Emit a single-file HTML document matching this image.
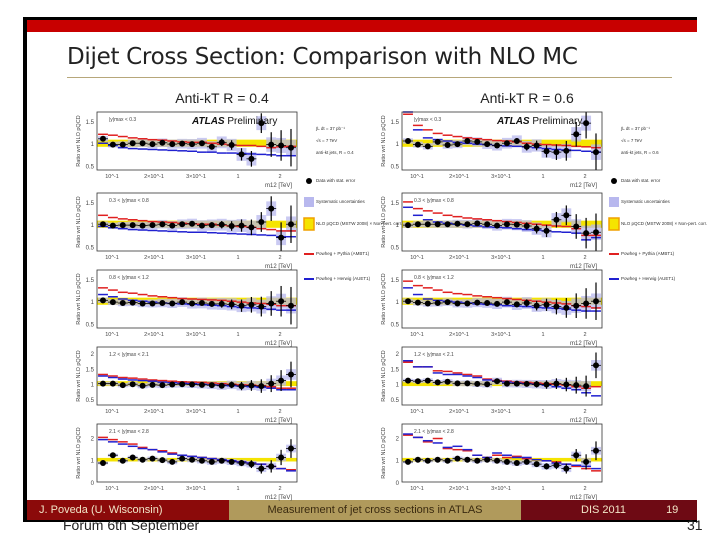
<!DOCTYPE html>
<html><head><meta charset="utf-8"><style>
body{margin:0;width:720px;height:540px;background:#fff;position:relative;overflow:hidden;font-family:"Liberation Sans",sans-serif}
#slide{position:absolute;left:23px;top:17px;width:674px;height:505px;background:#000}
#inner{position:absolute;left:4px;top:3px;width:670px;height:500px;background:#fff}
.abs{position:absolute}
</style></head><body>
<div id="slide">
<div id="inner">
<div class="abs" style="left:0;top:0;width:670px;height:12px;background:#c80000"></div>
<div class="abs" style="left:40px;top:24px;font-size:23px;color:#222;font-family:'DejaVu Sans',sans-serif;letter-spacing:-0.3px">Dijet Cross Section: Comparison with NLO MC</div>
<div class="abs" style="left:40px;top:57px;width:605px;height:1px;background:#b7a77a"></div>
<div class="abs" style="left:0;top:480px;width:202px;height:20px;background:#8b0a0a;color:#f2e6c8;font-size:11px;line-height:20px;text-indent:12px">J. Poveda (U. Wisconsin)</div>
<div class="abs" style="left:202px;top:480px;width:292px;height:20px;background:#b09a5c;color:#3a2a10;font-size:11px;line-height:20px;text-align:center">Measurement of jet cross sections in ATLAS</div>
<div class="abs" style="left:494px;top:480px;width:176px;height:20px;background:#6e0a14;color:#f2e6c8;font-size:11px;line-height:20px"><span style="margin-left:60px">DIS 2011</span><span style="margin-left:40px">19</span></div>
</div></div>
<div class="abs" style="left:63px;top:517px;font-size:14px;color:#222;line-height:16px">Forum 6th September</div>
<div class="abs" style="left:687px;top:517px;font-size:14px;color:#222;line-height:16px">31</div>
<svg id="chart" class="abs" style="left:0;top:0" width="720" height="540"></svg>
<script>
const panelTitles=["Anti-kT R = 0.4","Anti-kT R = 0.6"];
const rangeLabels=["|y|max < 0.3","0.3 < |y|max < 0.8","0.8 < |y|max < 1.2","1.2 < |y|max < 2.1","2.1 < |y|max < 2.8"];
const yMaxes=[1.7,1.7,1.7,2.2,2.6];
const yMins=[0.4,0.4,0.4,0.3,0];
const yTicks=[[0.5,1,1.5],[0.5,1,1.5],[0.5,1,1.5],[0.5,1,1.5,2],[0,1,2]];
const dataL=[[1.1,0.97,0.97,1.0,1.0,0.98,1.01,0.98,0.99,0.98,1.0,0.92,1.02,0.96,0.75,0.65,1.45,0.97,0.95,0.9],
[1.0,0.97,0.98,0.98,0.97,0.98,1.0,0.97,1.0,1.01,0.97,0.98,0.99,0.96,0.97,0.93,1.05,1.35,0.7,1.0],
[1.02,0.98,0.96,0.97,0.95,0.95,0.96,0.95,0.98,0.95,0.96,0.94,0.94,0.93,0.9,0.92,0.88,0.95,1.0,0.9],
[1.0,1.0,0.95,0.98,0.93,0.96,0.95,0.97,0.98,0.97,0.96,0.95,0.93,0.96,0.92,0.94,0.92,1.0,1.1,1.3],
[0.85,1.2,0.95,1.1,1.0,1.05,0.98,0.9,1.05,1.0,0.95,0.9,0.95,0.9,0.85,0.8,0.6,0.7,1.1,1.5]];
const dataR=[[1.05,0.97,0.93,1.03,0.96,0.98,1.05,1.03,0.98,0.95,1.0,1.05,0.92,0.95,0.82,0.8,0.83,1.2,1.45,0.8],
[0.98,1.0,1.0,1.0,1.0,1.01,1.0,1.02,1.0,0.97,1.0,0.99,0.96,0.9,0.85,1.1,1.2,0.95,0.8,0.82],
[1.0,0.97,0.95,0.96,0.98,0.95,0.95,0.97,0.96,0.94,0.98,0.93,0.96,0.9,0.92,0.88,0.85,0.9,0.95,1.0],
[1.1,1.08,1.1,1.04,1.06,1.01,1.01,0.99,0.98,1.08,1.0,1.0,0.99,0.98,0.97,1.0,0.97,0.95,0.92,1.6],
[0.9,1.0,0.95,1.0,0.95,1.05,1.0,0.95,1.0,0.95,0.9,0.85,0.9,0.8,0.7,0.75,0.6,1.2,0.9,1.4]];
const redL=[[1.2,1.18,1.15,1.12,1.1,1.08,1.07,1.05,1.03,1.02,1.02,1.0,0.98,0.96,0.95,0.95,0.93,0.9,0.92,0.93],
[1.2,1.15,1.12,1.1,1.08,1.06,1.05,1.04,1.02,1.01,1.0,1.0,0.98,0.96,0.95,0.93,0.9,0.88,0.85,0.85],
[1.3,1.25,1.2,1.18,1.15,1.12,1.1,1.08,1.06,1.05,1.04,1.03,1.02,1.0,0.98,0.96,0.95,0.93,0.9,0.9],
[1.3,1.25,1.2,1.18,1.15,1.12,1.1,1.08,1.06,1.05,1.04,1.02,1.0,0.98,0.96,0.95,0.93,0.9,0.85,0.85],
[2.0,1.9,1.8,1.7,1.55,1.45,1.4,1.3,1.2,1.15,1.1,1.05,1.0,0.95,0.9,0.85,0.8,0.7,0.6,0.55]];
const blueL=[[1.0,0.95,0.9,0.88,0.87,0.86,0.85,0.84,0.83,0.82,0.8,0.8,0.78,0.78,0.77,0.76,0.75,0.74,0.72,0.72],
[0.95,0.92,0.9,0.88,0.87,0.86,0.85,0.84,0.83,0.82,0.82,0.81,0.8,0.79,0.78,0.77,0.76,0.75,0.72,0.72],
[1.15,1.1,1.05,1.02,1.0,0.98,0.96,0.95,0.94,0.93,0.92,0.91,0.9,0.88,0.86,0.85,0.84,0.82,0.8,0.8],
[1.25,1.2,1.15,1.12,1.1,1.08,1.05,1.03,1.01,1.0,0.98,0.96,0.95,0.93,0.92,0.9,0.88,0.85,0.8,0.8],
[1.9,1.8,1.7,1.6,1.5,1.45,1.35,1.25,1.2,1.15,1.1,1.05,1.0,0.95,0.9,0.85,0.8,0.7,0.6,0.5]];
const redR=[[1.65,1.4,1.3,1.22,1.18,1.15,1.12,1.1,1.08,1.06,1.05,1.03,1.0,0.98,0.97,0.96,0.95,0.93,0.92,0.9],
[1.5,1.35,1.3,1.25,1.2,1.17,1.14,1.12,1.1,1.08,1.06,1.04,1.02,1.0,0.98,0.96,0.95,0.9,0.75,0.75],
[1.45,1.35,1.3,1.25,1.2,1.17,1.15,1.12,1.1,1.08,1.06,1.04,1.02,1.0,0.98,0.96,0.94,0.9,0.88,0.85],
[1.7,1.55,1.55,1.42,1.4,1.35,1.3,1.25,1.15,1.1,1.08,1.05,1.04,1.02,1.0,0.98,0.95,0.9,0.85,0.9],
[2.1,2.0,1.8,1.95,1.5,1.45,1.4,1.2,1.1,1.2,1.1,1.15,1.05,1.0,0.95,0.9,0.8,0.7,0.6,0.5]];
const blueR=[[1.7,1.3,1.12,1.08,1.05,1.02,1.0,0.98,0.97,0.95,0.94,0.93,0.92,0.9,0.88,0.86,0.85,0.84,0.82,0.8],
[1.38,1.2,1.1,1.05,1.02,1.0,0.98,0.96,0.94,0.93,0.92,0.9,0.88,0.87,0.85,0.83,0.82,0.8,0.65,0.7],
[1.3,1.15,1.05,1.02,1.0,0.98,0.96,0.94,0.93,0.92,0.9,0.89,0.88,0.86,0.85,0.84,0.82,0.8,0.78,0.78],
[1.75,1.55,1.55,1.35,1.3,1.3,1.25,1.2,1.12,1.08,1.05,1.02,1.0,0.98,0.95,0.9,0.85,0.8,0.7,0.6],
[2.15,2.0,1.85,1.75,1.55,1.6,1.45,1.2,1.1,1.3,1.2,1.1,1.1,1.0,0.95,0.85,0.8,0.75,0.7,0.6]];
const xTickLabels=["10^-1","2×10^-1","3×10^-1","1","2"];

const svg=document.getElementById('chart');
const NS="http://www.w3.org/2000/svg";
function mk(tag,attrs,name,parent){const e=document.createElementNS(NS,tag);for(const k in attrs)e.setAttribute(k,attrs[k]);


(parent||svg).appendChild(e);return e;}
const rowTops=[112,193,270,347,424];
const rowH=58;
const colLefts=[97,402];
const colW=200;
for(let c=0;c<2;c++){
  const t=mk('text',{x:colLefts[c]+125,y:103,'font-size':14,fill:'#222','text-anchor':'middle'},'column-title');
  t.textContent=panelTitles[c];
  for(let r=0;r<5;r++){
    const x0=colLefts[c],y0=rowTops[r],ymin=yMins[r],ymax=yMaxes[r];
    const g=mk('g',{},'panel-'+(c?'r06':'r04')+'-row'+(r+1));
    const ys=v=>y0+rowH-(Math.max(ymin,Math.min(ymax,v))-ymin)/(ymax-ymin)*rowH;
    const n=20;const xs=i=>x0+6+i*(colW-12)/(n-1);const hw=(colW-12)/(n-1)/2;
    const D=c?dataR[r]:dataL[r],R=c?redR[r]:redL[r],B=c?blueR[r]:blueL[r];
    mk('rect',{x:x0,y:ys(1.08),width:colW,height:ys(0.92)-ys(1.08),fill:'#f5e400'},'nlo-band',g);
    for(let i=0;i<n;i++){const w=0.06+i*0.006;mk('rect',{x:xs(i)-hw,y:ys(D[i]+w),width:hw*2,height:ys(D[i]-w)-ys(D[i]+w),fill:'#b8b8ee',opacity:0.75},'syst-box',g);}
    for(let i=0;i<n;i++){
      mk('line',{x1:xs(i)-hw,x2:xs(i)+hw,y1:ys(R[i]),y2:ys(R[i]),stroke:'#e02020','stroke-width':1.5},'pythia-point',g);
      mk('line',{x1:xs(i)-hw,x2:xs(i)+hw,y1:ys(B[i]),y2:ys(B[i]),stroke:'#2020d0','stroke-width':1.5},'herwig-point',g);
    }
    for(let i=0;i<n;i++){const e=0.02+Math.pow(i/19,4)*0.4;
      mk('line',{x1:xs(i),x2:xs(i),y1:ys(D[i]+e),y2:ys(D[i]-e),stroke:'#000','stroke-width':1.2},'data-errorbar',g);
      mk('line',{x1:xs(i)-hw,x2:xs(i)+hw,y1:ys(D[i]),y2:ys(D[i]),stroke:'#000','stroke-width':0.8},'data-binwidth',g);
      mk('circle',{cx:xs(i),cy:ys(D[i]),r:3,fill:'#000'},'data-point',g);}
    mk('rect',{x:x0,y:y0,width:colW,height:rowH,fill:'none',stroke:'#333','stroke-width':0.8},'plot-frame',g);
    yTicks[r].forEach(v=>{const tl=mk('text',{x:x0-3,y:ys(v)+3,'font-size':6,fill:'#444','text-anchor':'end'},'y-tick-label',g);tl.textContent=v;});
    xTickLabels.forEach((lb,k)=>{const tl=mk('text',{x:x0+15+k*42,y:y0+rowH+8,'font-size':5.5,fill:'#444','text-anchor':'middle'},'x-tick-label',g);tl.textContent=lb;});
    const xl=mk('text',{x:x0+colW-5,y:y0+rowH+17,'font-size':6,fill:'#444','text-anchor':'end'},'x-axis-title',g);xl.textContent='m12 [TeV]';
    const yl=mk('text',{x:x0-17,y:y0+rowH/2,'font-size':5.5,fill:'#444','text-anchor':'middle',transform:'rotate(-90 '+(x0-17)+' '+(y0+rowH/2)+')'},'y-axis-title',g);yl.textContent='Ratio wrt NLO pQCD';
    const rl=mk('text',{x:x0+12,y:y0+9,'font-size':5,fill:'#444'},'rapidity-label',g);rl.textContent=rangeLabels[r];
    if(r==0){const at=mk('text',{x:x0+95,y:y0+12,'font-size':10,fill:'#111'},'atlas-label',g);at.innerHTML='<tspan font-weight="bold" font-style="italic">ATLAS</tspan> Preliminary';}
  }
  const lx=colLefts[c]+207;
  const legs=[[130,'∫L dt = 37 pb⁻¹'],[142,'√s = 7 TeV'],[154,'anti-kt jets, R = '+(c?'0.6':'0.4')],[182,'Data with stat. error'],[203,'Systematic uncertainties'],[225,'NLO pQCD (MSTW 2008) × Non-pert. corr.'],[255,'Powheg + Pythia (AMBT1)'],[280,'Powheg + Herwig (AUET1)']];
  legs.forEach(([y,t])=>{const tl=mk('text',{x:lx+12,y:y,'font-size':4.5,fill:'#333'},'legend-entry');tl.textContent=t;});
  mk('circle',{cx:lx+5,cy:181,r:3,fill:'#000'},'legend-data-marker');
  mk('rect',{x:lx,y:197,width:10,height:10,fill:'#b8b8ee'},'legend-syst-swatch');
  mk('rect',{x:lx,y:218,width:10,height:12,fill:'#f5e400',stroke:'#f0a000','stroke-width':1.5},'legend-nlo-swatch');
  mk('line',{x1:lx,x2:lx+10,y1:254,y2:254,stroke:'#e02020','stroke-width':2},'legend-pythia-line');
  mk('line',{x1:lx,x2:lx+10,y1:279,y2:279,stroke:'#2020d0','stroke-width':2},'legend-herwig-line');
}
</script>
</body></html>
